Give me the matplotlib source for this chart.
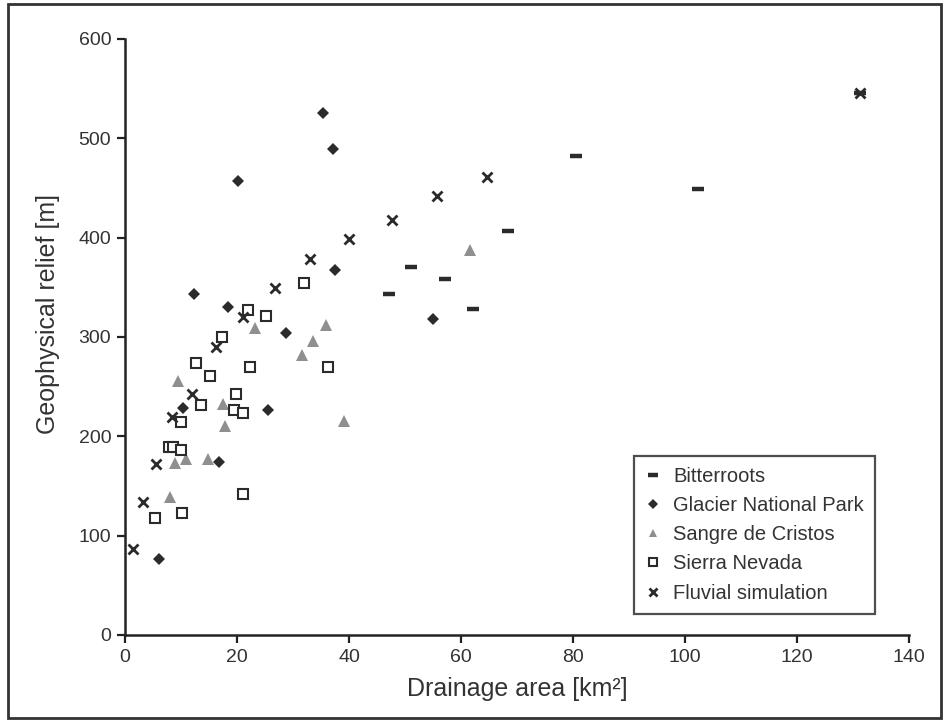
import matplotlib
matplotlib.use("Agg")
import matplotlib.pyplot as plt
from matplotlib.patches import Rectangle

plt.rcParams['font.family'] = ['Liberation Sans', 'DejaVu Sans']

# ---- data ----
bitter_x = [47.2, 51.1, 57.2, 62.2, 68.4, 80.5, 102.2, 131.2]
bitter_y = [343.0, 370.2, 358.1, 328.5, 407.0, 482.5, 448.7, 545.4]

glacier_x = [12.3, 18.3, 20.1, 35.4, 37.1, 37.4, 55.0, 28.7, 10.4, 25.5, 16.7, 6.1]
glacier_y = [343.3, 329.9, 457.4, 525.8, 489.6, 367.5, 318.4, 304.3, 228.8, 226.2, 174.2, 76.8]

sangre_x = [23.2, 35.8, 33.5, 31.6, 9.5, 17.5, 17.9, 39.1, 8.9, 10.8, 14.9, 8.1, 61.5]
sangre_y = [308.8, 312.1, 296.3, 281.9, 255.7, 232.3, 210.7, 215.4, 173.5, 176.9, 176.9, 138.9, 387.6]

sierra_x = [21.9, 25.1, 17.3, 12.6, 22.3, 15.2, 36.3, 19.8, 13.5, 19.5, 21.1, 10.0,
            7.9, 8.6, 10.0, 21.1, 10.2, 5.4, 32.0]
sierra_y = [327.2, 321.2, 299.7, 273.5, 270.1, 260.4, 270.1, 242.3, 231.2, 226.5, 223.2, 214.1,
            189.6, 189.6, 186.5, 142.3, 122.5, 117.5, 354.7]

fluvial_x = [1.5, 3.2, 5.5, 8.3, 11.9, 16.3, 21.1, 26.8, 33.1, 39.9, 47.6, 55.7, 64.6, 131.2]
fluvial_y = [86.9, 133.9, 171.9, 219.8, 242.9, 289.6, 319.8, 349.6, 378.8, 398.7, 418.1, 442.0, 460.8, 545.4]

series_labels = ["Bitterroots", "Glacier National Park", "Sangre de Cristos",
                 "Sierra Nevada", "Fluvial simulation"]
x_ticks = [0, 20, 40, 60, 80, 100, 120, 140]
y_ticks = [0, 100, 200, 300, 400, 500, 600]

dark = '#2b2b2b'

fig = plt.figure(figsize=(9.45, 7.22), dpi=100)
ax = fig.add_axes([0.1323, 0.1205, 0.9622 - 0.1323, 0.946 - 0.1205])

ax.plot(bitter_x, bitter_y, linestyle='none', marker='_', ms=9, mew=3.2,
        color=dark, label=series_labels[0])
ax.plot(glacier_x, glacier_y, linestyle='none', marker='D', ms=6.2, mew=0,
        color=dark, label=series_labels[1])
ax.plot(sangre_x, sangre_y, linestyle='none', marker='^', ms=8, mew=0,
        color='#8f8f8f', label=series_labels[2])
ax.plot(sierra_x, sierra_y, linestyle='none', marker='s', ms=6.5, mew=1.5,
        markerfacecolor='white', markeredgecolor=dark, label=series_labels[3])
ax.plot(fluvial_x, fluvial_y, linestyle='none', marker='x', ms=7.5, mew=2.0,
        color=dark, label=series_labels[4])

ax.set_xlim(0, 140)
ax.set_ylim(0, 600)
ax.set_xticks(x_ticks)
ax.set_yticks(y_ticks)
ax.set_xticklabels([str(t) for t in x_ticks])
ax.set_yticklabels([str(t) for t in y_ticks])

for s in ['top', 'right']:
    ax.spines[s].set_visible(False)
for s in ['left', 'bottom']:
    ax.spines[s].set_linewidth(1.8)
    ax.spines[s].set_color('#222222')
ax.tick_params(axis='both', direction='out', length=6, width=1.6, color='#222222',
               labelsize=14, labelcolor='#333333', pad=4)

ax.set_xlabel("Drainage area [km²]", fontsize=18, color='#333333', labelpad=8)
ax.set_ylabel("Geophysical relief [m]", fontsize=18, color='#333333')
ax.yaxis.set_label_coords(-0.083, 0.539)

leg = ax.legend(loc='upper left', bbox_to_anchor=(0.649, 0.300), borderaxespad=0,
                fontsize=14.5, labelspacing=0.5, handlelength=0.8, handletextpad=0.6,
                borderpad=0.55, fancybox=False, frameon=True, numpoints=1,
                markerscale=0.8)
leg.get_frame().set_edgecolor('#222222')
leg.get_frame().set_linewidth(1.6)
for t in leg.get_texts():
    t.set_color('#333333')

# outer frame around the figure
fig.patches.append(Rectangle((0.008, 0.006), 0.988, 0.988, transform=fig.transFigure,
                             fill=False, edgecolor='#333333', linewidth=2.0))

fig.savefig("out.png", dpi=100)
